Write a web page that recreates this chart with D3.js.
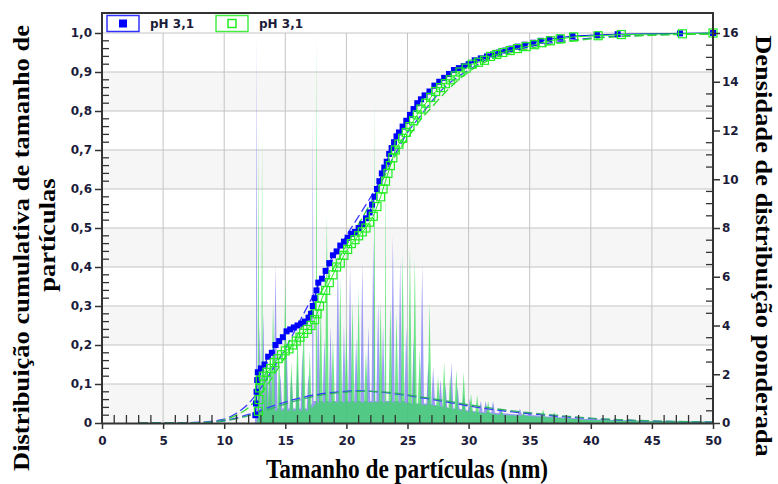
<!DOCTYPE html>
<html>
<head>
<meta charset="utf-8">
<script src="https://cdn.jsdelivr.net/npm/d3@7"></script>
<style>
  body { margin: 0; background: #fff; }
  svg { display: block; }
  .tick-label { font-family: "DejaVu Sans", Verdana, sans-serif; font-weight: bold; font-size: 12px; fill: #1c1c3a; }
  .title { font-family: "Liberation Serif", "Times New Roman", serif; font-weight: bold; font-size: 26.5px; fill: #000; }
</style>
</head>
<body>
<svg id="chart" width="778" height="484"></svg>
<script>
// Data
const legend_labels = ['pH 3,1', 'pH 3,1'];

// cumulative distribution, blue series (filled squares)
const cum_blue_x = [12.55,12.6,12.65,12.7,12.75,13.0,13.3,13.6,13.9,14.2,14.5,14.8,15.1,15.4,15.7,16.0,16.3,16.6,16.9,17.1,17.25,17.4,17.55,17.7,18.0,18.3,18.6,18.9,19.2,19.5,19.8,20.1,20.4,20.7,21.0,21.3,21.6,21.9,22.1,22.3,22.5,22.7,22.9,23.1,23.3,23.5,23.7,23.9,24.1,24.3,24.6,24.9,25.2,25.5,25.8,26.1,26.4,26.8,27.2,27.6,28.0,28.4,28.8,29.2,29.6,30.0,30.5,31.0,31.5,32.0,32.5,33.0,33.5,34.0,34.6,35.3,35.9,36.6,37.5,38.5,40.5,42.2,47.3,50];
const cum_blue_y = [0.02,0.05,0.08,0.11,0.13,0.14,0.15,0.17,0.18,0.2,0.21,0.22,0.235,0.24,0.245,0.25,0.255,0.26,0.27,0.28,0.30,0.32,0.34,0.36,0.37,0.39,0.41,0.43,0.44,0.455,0.465,0.475,0.485,0.49,0.50,0.51,0.525,0.54,0.56,0.58,0.60,0.62,0.64,0.655,0.67,0.69,0.705,0.72,0.735,0.745,0.76,0.775,0.79,0.805,0.82,0.83,0.84,0.85,0.865,0.875,0.885,0.895,0.905,0.91,0.915,0.92,0.93,0.935,0.94,0.945,0.95,0.955,0.96,0.965,0.97,0.975,0.98,0.984,0.988,0.992,0.995,0.997,0.999,1.0];

// cumulative distribution, green series (open squares)
const cum_green_x = [12.8,12.85,12.9,12.95,13.2,13.5,13.8,14.1,14.4,14.7,15.0,15.3,15.6,15.9,16.2,16.5,16.8,17.1,17.4,17.6,17.8,18.0,18.3,18.6,18.9,19.2,19.5,19.8,20.1,20.4,20.7,21.0,21.3,21.6,21.9,22.2,22.5,22.8,23.0,23.2,23.4,23.6,23.8,24.0,24.3,24.6,24.9,25.2,25.5,25.8,26.1,26.5,26.9,27.3,27.7,28.1,28.5,28.9,29.3,29.8,30.3,30.8,31.3,31.8,32.3,32.8,33.4,34.0,34.7,35.4,36.0,36.7,37.5,38.6,40.6,42.5,47.5,50];
const cum_green_y = [0.03,0.06,0.09,0.11,0.12,0.13,0.14,0.155,0.165,0.175,0.185,0.19,0.2,0.21,0.22,0.23,0.24,0.25,0.265,0.28,0.30,0.32,0.34,0.36,0.38,0.40,0.41,0.43,0.445,0.46,0.47,0.48,0.49,0.50,0.515,0.53,0.555,0.58,0.60,0.62,0.64,0.66,0.68,0.70,0.715,0.73,0.745,0.76,0.775,0.79,0.805,0.82,0.835,0.85,0.86,0.87,0.88,0.89,0.9,0.91,0.92,0.925,0.93,0.94,0.945,0.95,0.955,0.96,0.965,0.97,0.975,0.98,0.985,0.99,0.993,0.996,0.998,1.0];

// fitted cumulative curves (dashed)
const fit_x = [3,5,8,10,11,12,13,14,15,16,17,18,19,20,21,22,23,24,25,26,27,28,29,30,32,34,36,38,40,45,50];
const fit_cum_blue = [0,0,0.002,0.01,0.025,0.05,0.09,0.14,0.19,0.25,0.31,0.37,0.425,0.48,0.53,0.58,0.635,0.69,0.745,0.785,0.825,0.86,0.885,0.905,0.94,0.957,0.971,0.98,0.987,0.995,0.998];
const fit_cum_green = [0,0,0.001,0.008,0.02,0.04,0.075,0.12,0.17,0.225,0.285,0.34,0.4,0.455,0.51,0.565,0.625,0.685,0.73,0.775,0.81,0.845,0.875,0.9,0.935,0.953,0.967,0.977,0.985,0.994,0.997];

// fitted density curves (dashed, right axis)
const fit_den_x = [3,8,10,12,14,16,18,20,21,22,24,26,28,30,32,35,38,40,45,50];
const fit_den_blue = [0,0.01,0.1,0.35,0.7,1.0,1.2,1.3,1.32,1.3,1.2,1.05,0.88,0.7,0.55,0.38,0.25,0.18,0.08,0.03];
const fit_den_green = [0,0.01,0.08,0.3,0.62,0.93,1.15,1.27,1.3,1.3,1.22,1.08,0.92,0.75,0.6,0.42,0.28,0.2,0.09,0.04];

// weighted density (right axis), blue: one group of three points per spike
const den_blue_x = [12.5,
    12.59,12.65,12.71, 12.75,12.9,13.05, 13.05,13.2,13.35, 13.35,13.5,13.65, 13.65,13.8,13.95, 14.05,14.2,14.35,
    14.45,14.6,14.75, 14.95,15.1,15.25, 15.35,15.5,15.65, 15.85,16.0,16.15, 16.25,16.4,16.55, 16.75,16.9,17.05,
    17.19,17.25,17.31, 17.55,17.7,17.85, 18.05,18.2,18.35, 18.55,18.7,18.85, 19.15,19.3,19.45, 19.65,19.8,19.95,
    20.15,20.3,20.45, 20.65,20.8,20.95, 21.15,21.3,21.45, 21.65,21.8,21.95, 22.05,22.2,22.35, 22.45,22.6,22.75,
    22.85,23.0,23.15, 23.65,23.8,23.95, 24.25,24.4,24.55, 24.75,24.9,25.05, 25.35,25.5,25.65, 26.05,26.2,26.35,
    26.55,26.7,26.85, 26.95,27.1,27.25, 27.55,27.7,27.85, 27.95,28.1,28.25, 28.45,28.6,28.75, 28.95,29.1,29.25,
    29.45,29.6,29.75, 29.95,30.1,30.25, 30.85,31.0,31.15, 31.25,31.4,31.55, 31.85,32.0,32.15, 32.45,32.6,32.75,
    34.05,34.2,34.35, 34.85,35.0,35.15, 36.85,37.0,37.15,
    40, 45, 50];
const den_blue_y = [0,
    0.6,16,0.6, 0.6,4,0.6, 0.6,4.5,0.6, 0.6,2.5,0.6, 0.6,3,0.6, 0.6,6.5,0.6,
    0.6,2,0.6, 0.6,3.5,0.6, 0.6,2,0.6, 0.6,2.5,0.6, 0.6,3,0.6, 0.6,2,0.7,
    0.8,12.7,0.9, 0.9,5,0.9, 0.9,3.5,0.9, 0.9,4,0.9, 0.9,7,0.9, 0.9,4,0.9,
    0.9,6.5,0.9, 0.9,3.5,0.9, 0.9,6.6,0.9, 0.9,4,0.9, 0.9,7.6,0.9, 0.9,5,0.9,
    0.9,4,0.9, 0.9,7.7,0.9, 0.9,6.7,0.9, 0.9,4,0.85, 0.8,3.5,0.8, 0.8,6.5,0.8,
    0.8,2.5,0.8, 0.75,2.3,0.75, 0.7,1.8,0.7, 0.65,1.6,0.65, 0.6,2.5,0.6, 0.6,1.5,0.6,
    0.55,1.2,0.55, 0.5,1.0,0.5, 0.45,0.9,0.45, 0.45,0.9,0.45, 0.42,0.9,0.42, 0.4,0.6,0.4,
    0.35,0.6,0.35, 0.33,0.45,0.33, 0.25,0.35,0.25,
    0.15, 0.08, 0.06];

// weighted density (right axis), green
const den_green_x = [12.7,
    12.74,12.8,12.86, 13.04,13.1,13.16, 13.25,13.4,13.55, 13.55,13.7,13.85, 13.85,14.0,14.15, 14.35,14.5,14.65,
    14.85,15.0,15.15, 15.35,15.5,15.65, 15.85,16.0,16.15, 16.35,16.5,16.65, 16.85,17.0,17.15, 17.49,17.55,17.61,
    17.75,17.9,18.05, 18.25,18.4,18.55, 18.75,18.9,19.05, 19.35,19.5,19.65, 19.85,20.0,20.15, 20.35,20.5,20.65,
    20.85,21.0,21.15, 21.45,21.6,21.75, 22.24,22.3,22.36, 22.65,22.8,22.95, 23.14,23.2,23.26, 23.45,23.6,23.75,
    23.95,24.1,24.25, 24.45,24.6,24.75, 25.05,25.2,25.35, 25.45,25.6,25.75, 25.85,26.0,26.15, 26.65,26.8,26.95,
    27.35,27.5,27.65, 27.85,28.0,28.15, 28.35,28.5,28.65, 28.85,29.0,29.15, 29.45,29.6,29.75, 30.05,30.2,30.35,
    30.55,30.7,30.85, 31.45,31.6,31.75, 32.55,32.7,32.85, 34.35,34.5,34.65, 35.95,36.1,36.25, 36.85,37.0,37.15,
    40, 45, 50];
const den_green_y = [0,
    0.5,12,0.5, 0.5,12,0.5, 0.5,3,0.5, 0.5,2.5,0.5, 0.5,5,0.5, 0.5,3,0.5,
    0.5,6,0.5, 0.5,2.5,0.5, 0.5,4,0.5, 0.5,4.5,0.5, 0.5,3,0.6, 0.8,16,0.85,
    0.85,5,0.85, 0.85,8.5,0.85, 0.85,3.5,0.85, 0.85,6,0.85, 0.85,4,0.85, 0.85,5,0.85,
    0.85,5.5,0.85, 0.85,3,0.85, 0.85,13.5,0.85, 0.85,5,0.85, 0.85,11,0.85, 0.85,5,0.85,
    0.85,4.5,0.85, 0.85,7,0.85, 0.8,7.3,0.8, 0.8,6.8,0.8, 0.75,3,0.75, 0.75,5,0.75,
    0.7,1.9,0.7, 0.65,2.5,0.65, 0.6,2,0.6, 0.55,2.2,0.55, 0.5,2.1,0.5, 0.45,1.2,0.45,
    0.42,1.15,0.42, 0.4,0.9,0.4, 0.33,0.5,0.33, 0.3,0.4,0.3, 0.25,0.55,0.25, 0.22,0.45,0.22,
    0.12, 0.08, 0.05];

// Render params
const margin = {left: 102, right: 713, top: 33, bottom: 423, frameTop: 13};
const blue = '#0000ff', green = '#22ee22';
const axis_color = '#333';

const svg = d3.select('#chart');

const x = d3.scaleLinear().domain([0, 50]).range([margin.left, margin.right]);
const y = d3.scaleLinear().domain([0, 1]).range([margin.bottom, margin.top]);
const y2 = d3.scaleLinear().domain([0, 16]).range([margin.bottom, margin.top]);

const fmt = d => d3.format('.1f')(d).replace('.', ',');

// plot background bands
svg.append('g').selectAll('rect')
    .data(d3.range(0, 1, 0.2))
    .join('rect')
    .attr('x', x(0))
    .attr('y', d => y(d + 0.1))
    .attr('width', x(50) - x(0))
    .attr('height', d => y(d) - y(d + 0.1))
    .attr('fill', '#f6f6f6');

// grid
const grid = svg.append('g').attr('stroke', '#c4c4c4').attr('stroke-width', 1);
grid.selectAll('line.v')
    .data(d3.range(5, 50, 5))
    .join('line')
    .attr('x1', d => x(d)).attr('x2', d => x(d))
    .attr('y1', y(0)).attr('y2', y(1));
grid.selectAll('line.h')
    .data(d3.range(1, 11).map(d => d / 10))
    .join('line')
    .attr('x1', x(0)).attr('x2', x(50))
    .attr('y1', d => y(d)).attr('y2', d => y(d));

// density areas
const dens_area = (xs) => d3.area()
    .x((d, i) => x(xs[i]))
    .y0(y2(0))
    .y1(d => y2(d));

svg.append('path')
    .datum(den_blue_y)
    .attr('d', dens_area(den_blue_x))
    .attr('fill', '#6a6af2')
    .attr('fill-opacity', 0.65);

svg.append('path')
    .datum(den_green_y)
    .attr('d', dens_area(den_green_x))
    .attr('fill', '#33dd55')
    .attr('fill-opacity', 0.7);

// fitted curves
const fit_line = (xs, scale) => d3.line()
    .x((d, i) => x(xs[i]))
    .y(d => scale(d))
    .curve(d3.curveMonotoneX);

const fits = [
    [fit_cum_blue, fit_x, y, '#3a3aff'],
    [fit_cum_green, fit_x, y, '#33dd33'],
    [fit_den_blue, fit_den_x, y2, '#3a3aff'],
    [fit_den_green, fit_den_x, y2, '#2fae6a']
];
fits.forEach(([vals, xs, scale, col]) => {
    svg.append('path')
        .datum(vals)
        .attr('d', fit_line(xs, scale))
        .attr('fill', 'none')
        .attr('stroke', col)
        .attr('stroke-width', 1.3)
        .attr('stroke-dasharray', '9,4');
});

// cumulative lines + markers
const cum_line = (xs) => d3.line().x((d, i) => x(xs[i])).y(d => y(d));

svg.append('path')
    .datum(cum_blue_y)
    .attr('d', cum_line(cum_blue_x))
    .attr('fill', 'none').attr('stroke', blue).attr('stroke-width', 1);

svg.append('g').selectAll('rect')
    .data(cum_blue_y)
    .join('rect')
    .attr('x', (d, i) => x(cum_blue_x[i]) - 3)
    .attr('y', d => y(d) - 3)
    .attr('width', 6).attr('height', 6)
    .attr('fill', blue);

svg.append('path')
    .datum(cum_green_y)
    .attr('d', cum_line(cum_green_x))
    .attr('fill', 'none').attr('stroke', green).attr('stroke-width', 1);

svg.append('g').selectAll('rect')
    .data(cum_green_y)
    .join('rect')
    .attr('x', (d, i) => x(cum_green_x[i]) - 4)
    .attr('y', d => y(d) - 4)
    .attr('width', 8).attr('height', 8)
    .attr('fill', 'none')
    .attr('stroke', green)
    .attr('stroke-width', 1.2);

// bottom axis: major out, minor in
const x_axis = svg.append('g').attr('transform', `translate(0, ${y(0)})`);
x_axis.call(d3.axisBottom(x).tickValues(d3.range(0, 51, 5)).tickSize(6).tickSizeOuter(0));
x_axis.select('.domain').attr('stroke', axis_color).attr('stroke-width', 2);
x_axis.selectAll('.tick line').attr('stroke', axis_color).attr('stroke-width', 1.5);
x_axis.selectAll('.tick text').attr('class', 'tick-label').attr('y', 11).attr('dy', '0.9em');
svg.append('g').selectAll('line')
    .data(d3.range(1, 50).filter(d => d % 5 !== 0))
    .join('line')
    .attr('x1', d => x(d)).attr('x2', d => x(d))
    .attr('y1', y(0)).attr('y2', y(0) - 8)
    .attr('stroke', axis_color).attr('stroke-width', 1.3);

// left axis
const y_axis = svg.append('g').attr('transform', `translate(${x(0)}, 0)`);
y_axis.call(d3.axisLeft(y).tickValues(d3.range(0, 11).map(d => d / 10)).tickFormat(d => d === 0 ? '0' : fmt(d)).tickSize(7).tickSizeOuter(0));
y_axis.select('.domain').remove();
y_axis.selectAll('.tick line').attr('stroke', axis_color).attr('stroke-width', 1.5);
y_axis.selectAll('.tick text').attr('class', 'tick-label').attr('x', -10);
svg.append('g').selectAll('line')
    .data(d3.range(0, 50).filter(d => d % 5 !== 0).map(d => d / 50))
    .join('line')
    .attr('x1', x(0)).attr('x2', x(0) + 7)
    .attr('y1', d => y(d)).attr('y2', d => y(d))
    .attr('stroke', axis_color).attr('stroke-width', 1.3);

// right axis
const y2_axis = svg.append('g').attr('transform', `translate(${x(50)}, 0)`);
y2_axis.call(d3.axisRight(y2).tickValues(d3.range(0, 17, 2)).tickSize(7).tickSizeOuter(0));
y2_axis.select('.domain').remove();
y2_axis.selectAll('.tick line').attr('stroke', axis_color).attr('stroke-width', 1.5);
y2_axis.selectAll('.tick text').attr('class', 'tick-label').attr('x', 9);
svg.append('g').selectAll('line')
    .data(d3.range(0, 32).filter(d => d % 4 !== 0).map(d => d / 2))
    .join('line')
    .attr('x1', x(50)).attr('x2', x(50) - 7)
    .attr('y1', d => y2(d)).attr('y2', d => y2(d))
    .attr('stroke', axis_color).attr('stroke-width', 1.3);

// frame
svg.append('path')
    .attr('d', `M${x(0)},${y(0)} V${margin.frameTop} H${x(50)} V${y(0)}`)
    .attr('fill', 'none')
    .attr('stroke', axis_color)
    .attr('stroke-width', 2);

// legend
const legend = svg.append('g');
const legend_items = [
    {x: 107, col: '#3030ff', fill: blue, label: legend_labels[0]},
    {x: 216, col: '#44ee44', fill: 'none', label: legend_labels[1]}
];
legend_items.forEach(it => {
    legend.append('rect')
        .attr('x', it.x).attr('y', 15.5).attr('width', 32).attr('height', 16)
        .attr('fill', '#fff').attr('stroke', it.col).attr('stroke-width', 1.5);
    legend.append('rect')
        .attr('x', it.x + 12).attr('y', 19.5).attr('width', 8).attr('height', 8)
        .attr('fill', it.fill)
        .attr('stroke', it.fill === 'none' ? green : 'none')
        .attr('stroke-width', 1.5);
    legend.append('text')
        .attr('class', 'tick-label')
        .attr('x', it.x + 43).attr('y', 28)
        .text(it.label);
});

// titles (original picture is squeezed horizontally)
svg.append('text')
    .attr('class', 'title')
    .attr('transform', 'translate(407, 478) scale(0.88, 1)')
    .attr('text-anchor', 'middle')
    .text('Tamanho de partículas (nm)');

svg.append('text')
    .attr('class', 'title')
    .attr('transform', 'translate(29, 248) scale(0.88, 1) rotate(-90)')
    .attr('text-anchor', 'middle')
    .text('Distribuição cumulativa de tamanho de');

svg.append('text')
    .attr('class', 'title')
    .attr('transform', 'translate(55, 235) scale(0.88, 1) rotate(-90)')
    .attr('text-anchor', 'middle')
    .text('partículas');

svg.append('text')
    .attr('class', 'title')
    .attr('transform', 'translate(756, 246) scale(0.88, 1) rotate(90)')
    .attr('text-anchor', 'middle')
    .text('Densidade de distribuição ponderada');
</script>
</body>
</html>
